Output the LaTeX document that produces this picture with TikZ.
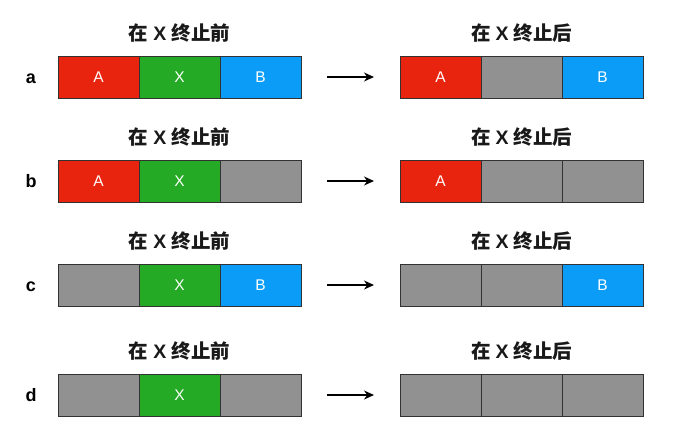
\documentclass[tikz,border=0pt]{standalone}
\usepackage{fontspec}
\setmainfont{Liberation Sans}
\newfontfamily\cjk{Noto Sans CJK SC}
\usetikzlibrary{arrows.meta}
\definecolor{cred}{RGB}{232,36,14}
\definecolor{cgreen}{RGB}{36,170,36}
\definecolor{cblue}{RGB}{10,156,246}
\definecolor{cgray}{RGB}{145,145,145}
\definecolor{cedge}{RGB}{50,50,50}
\tikzset{
  cell/.style={draw=cedge, line width=0.9pt, minimum width=81pt, minimum height=42pt, inner sep=0pt, text=white, font=\fontsize{15.5}{15.5}\selectfont},
  title/.style={font=\cjk\bfseries\fontsize{19.5}{19.5}\selectfont, text=black!90},
  rowlab/.style={font=\bfseries\fontsize{18}{18}\selectfont, anchor=base},
  arr/.style={-{Stealth[length=10pt,width=9pt]}, line width=1.3pt},
}
\newcommand{\befT}{在\hspace{5pt}{\rmfamily\bfseries X}\hspace{5pt}终止前}
\newcommand{\aftT}{在\hspace{5pt}{\rmfamily\bfseries X}\hspace{5pt}终止后}
\begin{document}
\begin{tikzpicture}[x=1pt,y=-1pt]
\useasboundingbox (0,0) rectangle (695,432);
\foreach \r/\y/\la/\lb/\lc/\ta/\tb/\tc/\ra/\rb/\rc/\sa/\sc in {
  a/77/cred/cgreen/cblue/A/X/B/cred/cgray/cblue/A/B,
  b/181/cred/cgreen/cgray/A/X//cred/cgray/cgray/A/,
  c/285/cgray/cgreen/cblue//X/B/cgray/cgray/cblue//B,
  d/395/cgray/cgreen/cgray//X//cgray/cgray/cgray//}{
  \node[rowlab] (lab\r) at (31,\y+6) {\r};
  \node[cell, fill=\la] (\r L1) at (98.5,\y) {\ta};
  \node[cell, fill=\lb] (\r L2) at (179.5,\y) {\tb};
  \node[cell, fill=\lc] (\r L3) at (260.5,\y) {\tc};
  \node[cell, fill=\ra] (\r R1) at (440.5,\y) {\sa};
  \node[cell, fill=\rb] (\r R2) at (521.5,\y) {};
  \node[cell, fill=\rc] (\r R3) at (602.5,\y) {\sc};
  \node[title] (tl\r) at (179.5,\y-44) {\befT};
  \node[title] (tr\r) at (521.5,\y-44) {\aftT};
  \coordinate (as\r) at (327,\y);
  \coordinate (ae\r) at (374,\y);
  \draw[arr] (as\r) -- (ae\r);
}
\end{tikzpicture}
\end{document}
